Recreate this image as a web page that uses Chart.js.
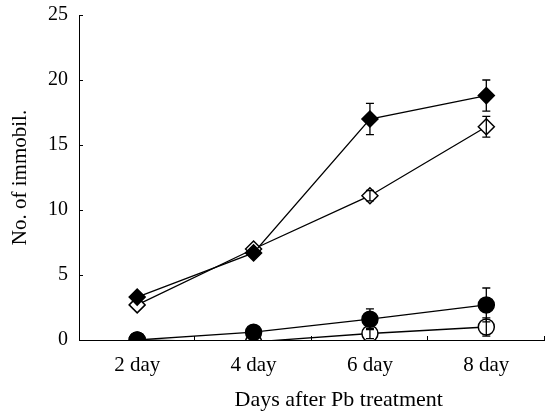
<!DOCTYPE html>
<html>
<head>
<meta charset="utf-8">
<script src="https://cdn.jsdelivr.net/npm/chart.js@4"></script>
<style>
  html, body { margin: 0; padding: 0; background: #fff; }
  #wrap { width: 554px; height: 413px; position: relative; }
</style>
</head>
<body>
<div id="wrap"><canvas id="chart"></canvas></div>
<script>
// Data
const days = ['2 day', '4 day', '6 day', '8 day'];
const filledDiamond = [3.3, 6.7, 17.0, 18.8];
const filledDiamondErr = [0, 0, 1.2, 1.2];
const openDiamond = [2.7, 7.0, 11.1, 16.4];
const openDiamondErr = [0, 0, 0.4, 0.8];
const filledCircle = [0, 0.6, 1.6, 2.7];
const filledCircleErr = [0, 0, 0.8, 1.3];
const openCircle = [0, -0.15, 0.5, 1.0];
const openCircleErr = [0, 0, 0.4, 0.7];
const yTicks = [0, 5, 10, 15, 20, 25];
const xTitle = 'Days after Pb treatment';

const serif = '"Liberation Serif", "DejaVu Serif", serif';

function series(values, errors, shape, filled, radius) {
    return {
        data: values,
        errors: errors,
        borderColor: '#000',
        borderWidth: 1.3,
        pointStyle: shape,
        pointRadius: radius,
        pointBorderWidth: 1.5,
        pointBackgroundColor: filled ? '#000' : '#fff',
        pointBorderColor: '#000',
        tension: 0,
        fill: false
    };
}

// error bars with caps, drawn over the markers
const errorBars = {
    id: 'errorBars',
    afterDatasetsDraw(chart) {
        const ctx = chart.ctx;
        const y = chart.scales.y;
        ctx.save();
        ctx.strokeStyle = '#000';
        ctx.lineWidth = 1.3;
        chart.data.datasets.forEach((ds, i) => {
            const meta = chart.getDatasetMeta(i);
            meta.data.forEach((pt, j) => {
                const e = ds.errors[j];
                if (!e) return;
                const top = y.getPixelForValue(ds.data[j] + e);
                const bot = y.getPixelForValue(ds.data[j] - e);
                ctx.beginPath();
                ctx.moveTo(pt.x, top); ctx.lineTo(pt.x, bot);
                ctx.moveTo(pt.x - 4, top); ctx.lineTo(pt.x + 4, top);
                ctx.moveTo(pt.x - 4, bot); ctx.lineTo(pt.x + 4, bot);
                ctx.stroke();
            });
        });
        ctx.restore();
    }
};

// small inward tick marks on both axes, plus the x-axis title (sits right of centre in the original)
const innerTicks = {
    id: 'innerTicks',
    afterDraw(chart) {
        const ctx = chart.ctx;
        const x = chart.scales.x, y = chart.scales.y;
        const area = chart.chartArea;
        ctx.save();
        ctx.strokeStyle = '#000';
        ctx.lineWidth = 1;
        ctx.beginPath();
        yTicks.forEach(v => {
            const py = Math.round(y.getPixelForValue(v)) + 0.5;
            ctx.moveTo(area.left, py); ctx.lineTo(area.left + 4, py);
        });
        const band = (area.right - area.left) / days.length;
        for (let i = 1; i <= days.length; i++) {
            const px = Math.round(x.getPixelForValue(i - 1) + band / 2) - 0.5;
            ctx.moveTo(px, area.bottom); ctx.lineTo(px, area.bottom - 4);
        }
        ctx.stroke();

        ctx.fillStyle = '#000';
        ctx.font = '22px ' + serif;
        ctx.textAlign = 'center';
        ctx.textBaseline = 'middle';
        ctx.fillText(xTitle, (area.left + area.right) / 2 + 27, chart.height - 13);
        ctx.restore();
    }
};

new Chart(document.getElementById('chart'), {
    type: 'line',
    data: {
        labels: days,
        datasets: [
            series(filledDiamond, filledDiamondErr, 'rectRot', true, 8),
            series(openDiamond, openDiamondErr, 'rectRot', false, 8),
            series(filledCircle, filledCircleErr, 'circle', true, 8),
            series(openCircle, openCircleErr, 'circle', false, 8)
        ]
    },
    options: {
        responsive: true,
        maintainAspectRatio: false,
        animation: false,
        layout: { padding: { top: 3, right: -2, left: 0, bottom: 0 } },
        plugins: { legend: { display: false }, tooltip: { enabled: false } },
        scales: {
            x: {
                offset: true,
                grid: { display: false },
                border: { display: true, color: '#000', width: 1 },
                ticks: { color: '#000', font: { family: serif, size: 21 }, padding: 5 },
                afterFit(scale) { scale.height = 73; }
            },
            y: {
                min: 0, max: 25,
                afterBuildTicks(scale) { scale.ticks = yTicks.map(v => ({ value: v })); },
                grid: { display: false },
                border: { display: true, color: '#000', width: 1 },
                ticks: { color: '#000', font: { family: serif, size: 20 }, padding: 3 },
                title: {
                    display: true, text: 'No. of immobil.', color: '#000',
                    font: { family: serif, size: 21 }, padding: { top: 8, bottom: 0 }
                },
                afterFit(scale) { scale.width = 79; }
            }
        }
    },
    plugins: [errorBars, innerTicks]
});
</script>
</body>
</html>
